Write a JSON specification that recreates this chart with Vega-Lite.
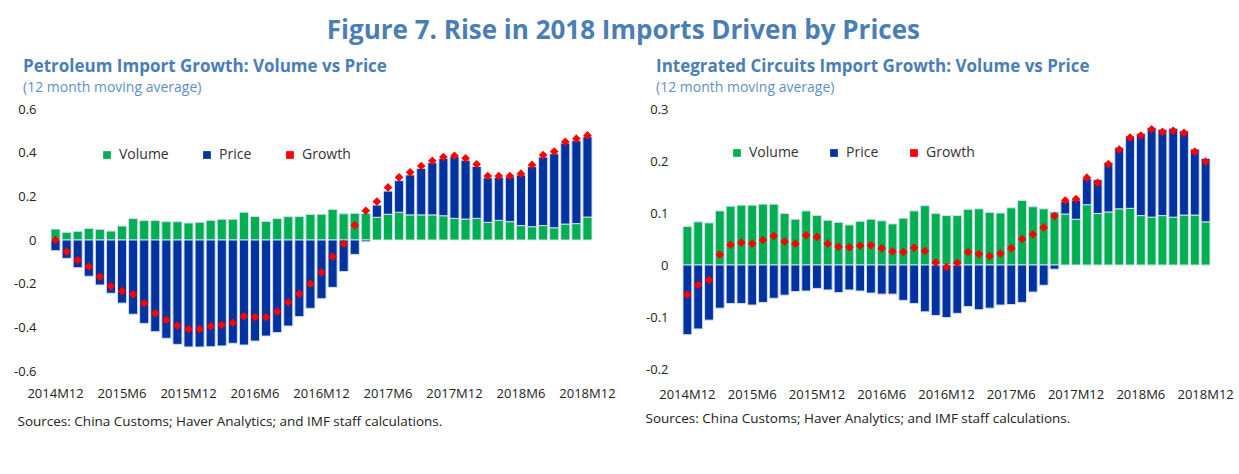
{
  "$schema": "https://vega.github.io/schema/vega-lite/v6.json",
  "background": "white",
  "padding": {"left": 13, "top": 18, "right": 0, "bottom": 0},
  "title": {
    "text": "Figure 7. Rise in 2018 Imports Driven by Prices",
    "font": "Open Sans",
    "fontSize": 26,
    "fontWeight": "bold",
    "color": "#4A7EB4",
    "anchor": "middle",
    "offset": 14
  },
  "datasets": {
    "petro": [
      {"month": "2014M12", "Volume": 0.05, "Price": -0.049, "Growth": 0.0},
      {"month": "2015M1", "Volume": 0.035, "Price": -0.084, "Growth": -0.053},
      {"month": "2015M2", "Volume": 0.04, "Price": -0.127, "Growth": -0.092},
      {"month": "2015M3", "Volume": 0.053, "Price": -0.166, "Growth": -0.122},
      {"month": "2015M4", "Volume": 0.049, "Price": -0.206, "Growth": -0.168},
      {"month": "2015M5", "Volume": 0.041, "Price": -0.244, "Growth": -0.211},
      {"month": "2015M6", "Volume": 0.064, "Price": -0.289, "Growth": -0.234},
      {"month": "2015M7", "Volume": 0.098, "Price": -0.34, "Growth": -0.249},
      {"month": "2015M8", "Volume": 0.089, "Price": -0.382, "Growth": -0.29},
      {"month": "2015M9", "Volume": 0.089, "Price": -0.42, "Growth": -0.336},
      {"month": "2015M10", "Volume": 0.084, "Price": -0.45, "Growth": -0.366},
      {"month": "2015M11", "Volume": 0.084, "Price": -0.478, "Growth": -0.392},
      {"month": "2015M12", "Volume": 0.078, "Price": -0.49, "Growth": -0.408},
      {"month": "2016M1", "Volume": 0.081, "Price": -0.49, "Growth": -0.408},
      {"month": "2016M2", "Volume": 0.09, "Price": -0.489, "Growth": -0.395},
      {"month": "2016M3", "Volume": 0.095, "Price": -0.485, "Growth": -0.389},
      {"month": "2016M4", "Volume": 0.095, "Price": -0.473, "Growth": -0.379},
      {"month": "2016M5", "Volume": 0.127, "Price": -0.481, "Growth": -0.35},
      {"month": "2016M6", "Volume": 0.108, "Price": -0.463, "Growth": -0.353},
      {"month": "2016M7", "Volume": 0.085, "Price": -0.44, "Growth": -0.354},
      {"month": "2016M8", "Volume": 0.098, "Price": -0.424, "Growth": -0.328},
      {"month": "2016M9", "Volume": 0.107, "Price": -0.394, "Growth": -0.285},
      {"month": "2016M10", "Volume": 0.107, "Price": -0.351, "Growth": -0.247},
      {"month": "2016M11", "Volume": 0.117, "Price": -0.313, "Growth": -0.2},
      {"month": "2016M12", "Volume": 0.118, "Price": -0.269, "Growth": -0.148},
      {"month": "2017M1", "Volume": 0.14, "Price": -0.217, "Growth": -0.076},
      {"month": "2017M2", "Volume": 0.12, "Price": -0.144, "Growth": -0.018},
      {"month": "2017M3", "Volume": 0.122, "Price": -0.066, "Growth": 0.067},
      {"month": "2017M4", "Volume": 0.122, "Price": -0.008, "Growth": 0.134},
      {"month": "2017M5", "Volume": 0.104, "Price": 0.056, "Growth": 0.176},
      {"month": "2017M6", "Volume": 0.118, "Price": 0.106, "Growth": 0.241},
      {"month": "2017M7", "Volume": 0.127, "Price": 0.145, "Growth": 0.287},
      {"month": "2017M8", "Volume": 0.115, "Price": 0.183, "Growth": 0.31},
      {"month": "2017M9", "Volume": 0.115, "Price": 0.213, "Growth": 0.339},
      {"month": "2017M10", "Volume": 0.115, "Price": 0.239, "Growth": 0.363},
      {"month": "2017M11", "Volume": 0.111, "Price": 0.263, "Growth": 0.38},
      {"month": "2017M12", "Volume": 0.099, "Price": 0.283, "Growth": 0.386},
      {"month": "2018M1", "Volume": 0.096, "Price": 0.269, "Growth": 0.374},
      {"month": "2018M2", "Volume": 0.099, "Price": 0.238, "Growth": 0.347},
      {"month": "2018M3", "Volume": 0.081, "Price": 0.204, "Growth": 0.293},
      {"month": "2018M4", "Volume": 0.09, "Price": 0.197, "Growth": 0.293},
      {"month": "2018M5", "Volume": 0.084, "Price": 0.205, "Growth": 0.293},
      {"month": "2018M6", "Volume": 0.066, "Price": 0.232, "Growth": 0.304},
      {"month": "2018M7", "Volume": 0.061, "Price": 0.275, "Growth": 0.344},
      {"month": "2018M8", "Volume": 0.066, "Price": 0.314, "Growth": 0.389},
      {"month": "2018M9", "Volume": 0.056, "Price": 0.339, "Growth": 0.405},
      {"month": "2018M10", "Volume": 0.073, "Price": 0.371, "Growth": 0.45},
      {"month": "2018M11", "Volume": 0.075, "Price": 0.38, "Growth": 0.464},
      {"month": "2018M12", "Volume": 0.105, "Price": 0.368, "Growth": 0.479}
    ],
    "ic": [
      {"month": "2014M12", "Volume": 0.074, "Price": -0.134, "Growth": -0.057},
      {"month": "2015M1", "Volume": 0.083, "Price": -0.123, "Growth": -0.038},
      {"month": "2015M2", "Volume": 0.081, "Price": -0.106, "Growth": -0.029},
      {"month": "2015M3", "Volume": 0.104, "Price": -0.083, "Growth": 0.02},
      {"month": "2015M4", "Volume": 0.113, "Price": -0.074, "Growth": 0.039},
      {"month": "2015M5", "Volume": 0.115, "Price": -0.074, "Growth": 0.043},
      {"month": "2015M6", "Volume": 0.115, "Price": -0.077, "Growth": 0.041},
      {"month": "2015M7", "Volume": 0.117, "Price": -0.072, "Growth": 0.048},
      {"month": "2015M8", "Volume": 0.117, "Price": -0.064, "Growth": 0.056},
      {"month": "2015M9", "Volume": 0.099, "Price": -0.058, "Growth": 0.045},
      {"month": "2015M10", "Volume": 0.088, "Price": -0.051, "Growth": 0.041},
      {"month": "2015M11", "Volume": 0.104, "Price": -0.05, "Growth": 0.057},
      {"month": "2015M12", "Volume": 0.095, "Price": -0.045, "Growth": 0.054},
      {"month": "2016M1", "Volume": 0.086, "Price": -0.048, "Growth": 0.041},
      {"month": "2016M2", "Volume": 0.082, "Price": -0.053, "Growth": 0.035},
      {"month": "2016M3", "Volume": 0.077, "Price": -0.048, "Growth": 0.034},
      {"month": "2016M4", "Volume": 0.084, "Price": -0.05, "Growth": 0.037},
      {"month": "2016M5", "Volume": 0.088, "Price": -0.054, "Growth": 0.038},
      {"month": "2016M6", "Volume": 0.085, "Price": -0.056, "Growth": 0.032},
      {"month": "2016M7", "Volume": 0.079, "Price": -0.056, "Growth": 0.026},
      {"month": "2016M8", "Volume": 0.09, "Price": -0.068, "Growth": 0.025},
      {"month": "2016M9", "Volume": 0.104, "Price": -0.074, "Growth": 0.033},
      {"month": "2016M10", "Volume": 0.114, "Price": -0.09, "Growth": 0.027},
      {"month": "2016M11", "Volume": 0.099, "Price": -0.097, "Growth": 0.005},
      {"month": "2016M12", "Volume": 0.095, "Price": -0.101, "Growth": -0.004},
      {"month": "2017M1", "Volume": 0.095, "Price": -0.093, "Growth": 0.004},
      {"month": "2017M2", "Volume": 0.107, "Price": -0.08, "Growth": 0.025},
      {"month": "2017M3", "Volume": 0.108, "Price": -0.086, "Growth": 0.021},
      {"month": "2017M4", "Volume": 0.101, "Price": -0.083, "Growth": 0.017},
      {"month": "2017M5", "Volume": 0.1, "Price": -0.077, "Growth": 0.022},
      {"month": "2017M6", "Volume": 0.11, "Price": -0.076, "Growth": 0.032},
      {"month": "2017M7", "Volume": 0.124, "Price": -0.072, "Growth": 0.05},
      {"month": "2017M8", "Volume": 0.112, "Price": -0.052, "Growth": 0.059},
      {"month": "2017M9", "Volume": 0.108, "Price": -0.039, "Growth": 0.072},
      {"month": "2017M10", "Volume": 0.102, "Price": -0.008, "Growth": 0.094},
      {"month": "2017M11", "Volume": 0.098, "Price": 0.024, "Growth": 0.124},
      {"month": "2017M12", "Volume": 0.088, "Price": 0.037, "Growth": 0.127},
      {"month": "2018M1", "Volume": 0.116, "Price": 0.05, "Growth": 0.168},
      {"month": "2018M2", "Volume": 0.099, "Price": 0.065, "Growth": 0.158},
      {"month": "2018M3", "Volume": 0.102, "Price": 0.095, "Growth": 0.194},
      {"month": "2018M4", "Volume": 0.108, "Price": 0.118, "Growth": 0.222},
      {"month": "2018M5", "Volume": 0.109, "Price": 0.139, "Growth": 0.245},
      {"month": "2018M6", "Volume": 0.095, "Price": 0.158, "Growth": 0.249},
      {"month": "2018M7", "Volume": 0.092, "Price": 0.172, "Growth": 0.261},
      {"month": "2018M8", "Volume": 0.095, "Price": 0.166, "Growth": 0.256},
      {"month": "2018M9", "Volume": 0.092, "Price": 0.171, "Growth": 0.258},
      {"month": "2018M10", "Volume": 0.096, "Price": 0.162, "Growth": 0.254},
      {"month": "2018M11", "Volume": 0.096, "Price": 0.127, "Growth": 0.218},
      {"month": "2018M12", "Volume": 0.083, "Price": 0.122, "Growth": 0.199}
    ]
  },
  "spacing": 29,
  "hconcat": [
    {
      "width": 543,
      "height": 262,
      "data": {"name": "petro"},
      "transform": [{"fold": ["Volume", "Price", "Growth"], "as": ["series", "value"]}],
      "title": {
        "text": "Petroleum Import Growth: Volume vs Price",
        "subtitle": "(12 month moving average)",
        "anchor": "start",
        "frame": "group",
        "dx": -27,
        "font": "Open Sans",
        "fontSize": 17,
        "fontWeight": "bold",
        "color": "#4A7EB4",
        "subtitleFont": "Open Sans",
        "subtitleFontSize": 14,
        "subtitleColor": "#5E90C6",
        "subtitlePadding": 5,
        "offset": 7
      },
      "encoding": {
        "x": {
          "field": "month",
          "type": "ordinal",
          "sort": null,
          "scale": {"paddingInner": 0.18, "paddingOuter": 0.09},
          "axis": {
            "values": ["2014M12", "2015M6", "2015M12", "2016M6", "2016M12", "2017M6", "2017M12", "2018M6", "2018M12"],
            "labelAngle": 0,
            "labelPadding": 16,
            "title": "Sources: China Customs; Haver Analytics; and IMF staff calculations.",
            "titleAnchor": "start",
            "titleAlign": "left",
            "titleBaseline": "middle",
            "titleX": -33,
            "titleY": 50
          }
        }
      },
      "layer": [
        {
          "transform": [{"filter": "datum.series !== 'Growth'"}],
          "mark": {"type": "bar", "stroke": "#d3ddef", "strokeWidth": 1},
          "encoding": {
            "y": {
              "field": "value",
              "type": "quantitative",
              "stack": "zero",
              "scale": {"domain": [-0.6, 0.6], "nice": false},
              "axis": {"values": [-0.6, -0.4, -0.2, 0, 0.2, 0.4, 0.6], "labelExpr": "toString(datum.value)", "title": null, "labelPadding": 14}
            },
            "color": {
              "field": "series",
              "type": "nominal",
              "scale": {"domain": ["Volume", "Price", "Growth"], "range": ["#00B050", "#0033A0", "#FF0000"]},
              "legend": {
                "orient": "none",
                "direction": "horizontal",
                "legendX": 50,
                "legendY": 39,
                "title": null,
                "columnPadding": 31,
                "labelFontSize": 14,
                "labelColor": "#333333",
                "labelFont": "Open Sans",
                "labelOffset": 5,
                "symbolSize": 60,
                "symbolStrokeWidth": 0,
                "encode": {
                  "symbols": {
                    "update": {
                      "shape": {"signal": "datum.value === 'Growth' ? 'diamond' : 'square'"},
                      "size": {"signal": "datum.value === 'Growth' ? 55 : 60"}
                    }
                  }
                }
              }
            },
            "order": {"field": "series", "sort": "descending"}
          }
        },
        {
          "transform": [{"filter": "datum.series === 'Growth'"}],
          "mark": {"type": "point", "shape": "diamond", "filled": true, "size": 75, "opacity": 1},
          "encoding": {
            "y": {"field": "value", "type": "quantitative"},
            "color": {"field": "series", "type": "nominal"}
          }
        }
      ]
    },
    {
      "width": 529,
      "height": 260,
      "data": {"name": "ic"},
      "transform": [{"fold": ["Volume", "Price", "Growth"], "as": ["series", "value"]}],
      "title": {
        "text": "Integrated Circuits Import Growth: Volume vs Price",
        "subtitle": "(12 month moving average)",
        "anchor": "start",
        "frame": "group",
        "dx": -26,
        "font": "Open Sans",
        "fontSize": 17,
        "fontWeight": "bold",
        "color": "#4A7EB4",
        "subtitleFont": "Open Sans",
        "subtitleFontSize": 14,
        "subtitleColor": "#5E90C6",
        "subtitlePadding": 5,
        "offset": 7
      },
      "encoding": {
        "x": {
          "field": "month",
          "type": "ordinal",
          "sort": null,
          "scale": {"paddingInner": 0.18, "paddingOuter": 0.09},
          "axis": {
            "values": ["2014M12", "2015M6", "2015M12", "2016M6", "2016M12", "2017M6", "2017M12", "2018M6", "2018M12"],
            "labelAngle": 0,
            "labelPadding": 19,
            "title": "Sources: China Customs; Haver Analytics; and IMF staff calculations.",
            "titleAnchor": "start",
            "titleAlign": "left",
            "titleBaseline": "middle",
            "titleX": -37,
            "titleY": 49
          }
        }
      },
      "layer": [
        {
          "transform": [{"filter": "datum.series !== 'Growth'"}],
          "mark": {"type": "bar", "stroke": "#d3ddef", "strokeWidth": 1},
          "encoding": {
            "y": {
              "field": "value",
              "type": "quantitative",
              "stack": "zero",
              "scale": {"domain": [-0.2, 0.3], "nice": false},
              "axis": {"values": [-0.2, -0.1, 0, 0.1, 0.2, 0.3], "labelExpr": "toString(datum.value)", "title": null, "labelPadding": 14}
            },
            "color": {
              "field": "series",
              "type": "nominal",
              "scale": {"domain": ["Volume", "Price", "Growth"], "range": ["#00B050", "#0033A0", "#FF0000"]},
              "legend": {
                "orient": "none",
                "direction": "horizontal",
                "legendX": 48,
                "legendY": 37,
                "title": null,
                "columnPadding": 28,
                "labelFontSize": 14,
                "labelColor": "#333333",
                "labelFont": "Open Sans",
                "labelOffset": 5,
                "symbolSize": 60,
                "symbolStrokeWidth": 0,
                "encode": {
                  "symbols": {
                    "update": {
                      "shape": {"signal": "datum.value === 'Growth' ? 'diamond' : 'square'"},
                      "size": {"signal": "datum.value === 'Growth' ? 55 : 60"}
                    }
                  }
                }
              }
            },
            "order": {"field": "series", "sort": "descending"}
          }
        },
        {
          "transform": [{"filter": "datum.series === 'Growth'"}],
          "mark": {"type": "point", "shape": "diamond", "filled": true, "size": 75, "opacity": 1},
          "encoding": {
            "y": {"field": "value", "type": "quantitative"},
            "color": {"field": "series", "type": "nominal"}
          }
        }
      ]
    }
  ],
  "resolve": {"scale": {"color": "independent"}, "legend": {"color": "independent"}},
  "config": {
    "font": "Open Sans",
    "view": {"stroke": null},
    "axis": {
      "domain": false,
      "ticks": false,
      "grid": false,
      "labelFont": "Open Sans",
      "labelFontSize": 13,
      "labelColor": "#222222",
      "titleFont": "Open Sans",
      "titleFontSize": 13.5,
      "titleFontWeight": "normal",
      "titleColor": "#222222"
    }
  }
}
